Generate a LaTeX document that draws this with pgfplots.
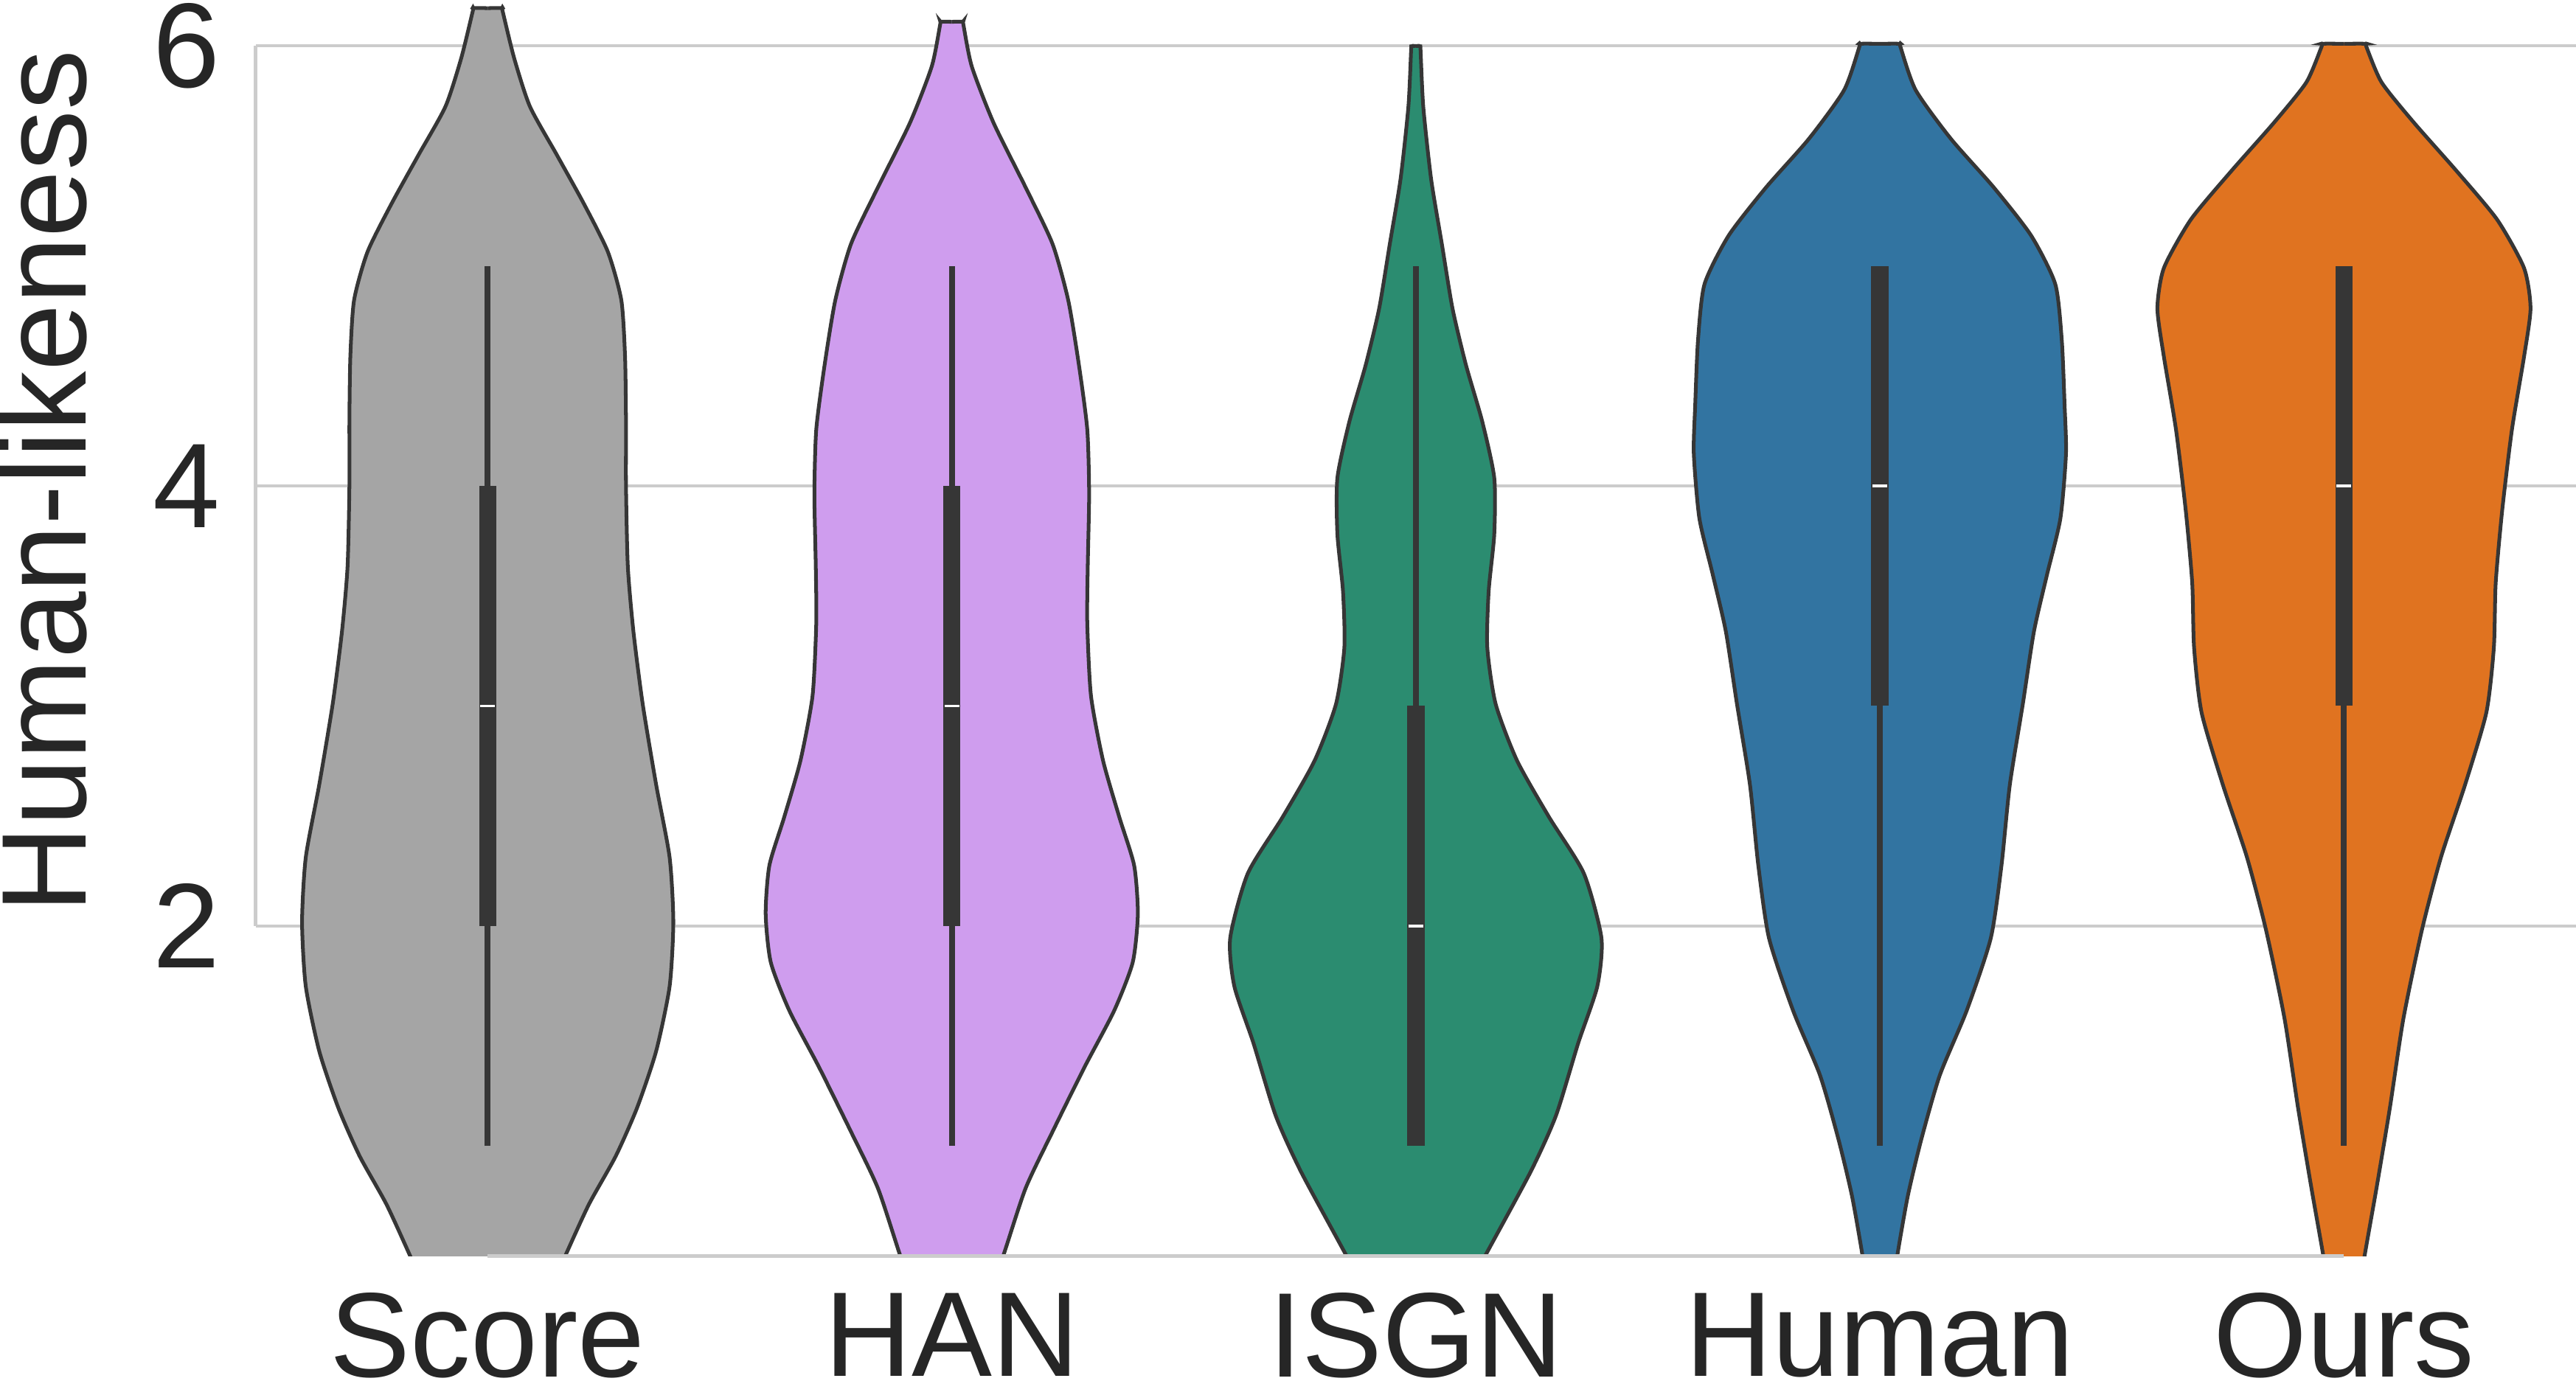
\documentclass[border=0pt]{standalone}
\usepackage{fontspec}
\setmainfont{Liberation Sans}
\usepackage{pgfplots}
\usepackage{pgfplotstable}
\pgfplotsset{compat=1.18}

\definecolor{cScore}{HTML}{A5A5A5}
\definecolor{cHAN}{HTML}{CF9DEE}
\definecolor{cISGN}{HTML}{2B8C70}
\definecolor{cHuman}{HTML}{3274A1}
\definecolor{cOurs}{HTML}{E07320}
\definecolor{outc}{HTML}{363636}
\definecolor{gridc}{HTML}{CCCCCC}
\definecolor{textc}{HTML}{262626}

\newcommand{\fs}{\fontsize{20.8pt}{25pt}\selectfont}

% half-width profiles of the violins: y value, half width (x units)
\pgfplotstableread{
y w
0.30 0
0.30 0.125
0.495 0.166
0.734 0.218
0.954 0.276
1.174 0.322
1.431 0.363
1.725 0.392
2.018 0.400
2.312 0.392
2.642 0.363
3.009 0.334
3.339 0.314
3.633 0.302
4.000 0.298
4.294 0.298
4.587 0.296
4.844 0.288
5.064 0.259
5.284 0.207
5.505 0.149
5.725 0.091
5.945 0.057
6.160 0.032
6.172 0.031
6.172 0
}\tScore

\pgfplotstableread{
y w
0.30 0
0.30 0.075
0.495 0.110
0.807 0.159
1.064 0.217
1.358 0.286
1.615 0.350
1.835 0.390
2.055 0.401
2.275 0.393
2.495 0.361
2.752 0.326
3.046 0.300
3.376 0.292
3.633 0.293
3.963 0.296
4.257 0.292
4.550 0.274
4.844 0.251
5.101 0.217
5.358 0.159
5.651 0.090
5.908 0.043
6.098 0.025
6.110 0.024
6.110 0
}\tHAN

\pgfplotstableread{
y w
0.30 0
0.30 0.100
0.495 0.148
0.881 0.247
1.138 0.302
1.468 0.350
1.725 0.391
1.945 0.400
2.239 0.362
2.495 0.287
2.752 0.218
3.009 0.172
3.266 0.154
3.523 0.157
3.780 0.169
4.037 0.169
4.294 0.143
4.550 0.108
4.807 0.079
5.101 0.056
5.394 0.033
5.725 0.016
5.990 0.010
6.000 0.009
6.000 0
}\tISGN

\pgfplotstableread{
y w
0.30 0
0.30 0.025
0.495 0.037
0.771 0.060
1.028 0.089
1.321 0.129
1.615 0.187
1.945 0.239
2.275 0.262
2.642 0.280
3.009 0.308
3.339 0.332
3.596 0.360
3.853 0.389
4.147 0.401
4.367 0.398
4.661 0.392
4.917 0.378
5.138 0.326
5.358 0.245
5.578 0.153
5.800 0.077
5.998 0.044
6.010 0.043
6.010 0
}\tHuman

\pgfplotstableread{
y w
0.30 0
0.30 0.030
0.495 0.044
0.807 0.070
1.174 0.099
1.578 0.128
1.982 0.168
2.312 0.209
2.642 0.261
2.972 0.307
3.266 0.323
3.560 0.327
3.890 0.341
4.257 0.362
4.587 0.388
4.807 0.402
4.991 0.388
5.211 0.330
5.431 0.243
5.651 0.151
5.835 0.081
5.998 0.048
6.010 0.047
6.010 0
}\tOurs

\newcommand{\violin}[3]{%
  \addplot[fill=#3, draw=#3, line width=0.3pt, smooth, tension=0.4] table[x expr=#1-\thisrow{w}, y=y] {#2} -- cycle;
  \addplot[fill=#3, draw=#3, line width=0.3pt, smooth, tension=0.4] table[x expr=#1+\thisrow{w}, y=y] {#2} -- cycle;
  \addplot[draw=outc, line width=0.64pt, smooth, tension=0.4] table[x expr=#1-\thisrow{w}, y=y] {#2};
  \addplot[draw=outc, line width=0.64pt, smooth, tension=0.4] table[x expr=#1+\thisrow{w}, y=y] {#2};
}

\begin{document}
\begin{tikzpicture}
\begin{axis}[
  scale only axis,
  width=400.6pt, height=216.54pt,
  xmin=-0.5, xmax=4.5, ymin=0.5, ymax=6.2,
  axis line style={draw=none},
  xtick={0,1,2,3,4},
  xticklabels={Score,HAN,ISGN,Human,Ours},
  ytick={2,4,6},
  major tick length=0pt,
  tick style={draw=none},
  ymajorgrids,
  grid style={color=gridc, line width=0.51pt},
  /pgf/number format/assume math mode=true,
  tick label style={font=\fs, text=textc},
  yticklabel style={anchor=east, inner sep=0pt, xshift=-5.9pt},
  xticklabel style={anchor=north, inner sep=0pt, yshift=-6.2pt},
  ylabel={Human-likeness},
  every axis y label/.style={at={(axis description cs:-0.072,0.6175)}, anchor=south, rotate=90, inner sep=0pt, font=\fs, text=textc},
  after end axis/.code={
    \draw[gridc, line width=0.64pt] (axis cs:-0.5,2) -- (axis cs:-0.5,6);
    \draw[gridc, line width=0.64pt] (axis cs:0,0.5) -- (axis cs:4,0.5);
  },
]
\violin{0}{\tScore}{cScore}
\violin{1}{\tHAN}{cHAN}
\violin{2}{\tISGN}{cISGN}
\violin{3}{\tHuman}{cHuman}
\violin{4}{\tOurs}{cOurs}

% inner boxes: whiskers (1 to 5), boxes (Q1 to Q3), medians
\addplot[draw=outc, line width=1.02pt] coordinates {(0,1) (0,5)};
\addplot[draw=outc, line width=3pt] coordinates {(0,2) (0,4)};
\addplot[draw=white, line width=0.5pt] coordinates {(-0.016,3) (0.016,3)};

\addplot[draw=outc, line width=1.02pt] coordinates {(1,1) (1,5)};
\addplot[draw=outc, line width=3pt] coordinates {(1,2) (1,4)};
\addplot[draw=white, line width=0.5pt] coordinates {(0.984,3) (1.016,3)};

\addplot[draw=outc, line width=1.02pt] coordinates {(2,1) (2,5)};
\addplot[draw=outc, line width=3pt] coordinates {(2,1) (2,3)};
\addplot[draw=white, line width=0.5pt] coordinates {(1.984,2) (2.016,2)};

\addplot[draw=outc, line width=1.02pt] coordinates {(3,1) (3,5)};
\addplot[draw=outc, line width=3pt] coordinates {(3,3) (3,5)};
\addplot[draw=white, line width=0.5pt] coordinates {(2.984,4) (3.016,4)};

\addplot[draw=outc, line width=1.02pt] coordinates {(4,1) (4,5)};
\addplot[draw=outc, line width=3pt] coordinates {(4,3) (4,5)};
\addplot[draw=white, line width=0.5pt] coordinates {(3.984,4) (4.016,4)};
\end{axis}
\pgfresetboundingbox
\path[use as bounding box] (-44.14pt,-21.55pt) rectangle (400.6pt,216.88pt);
\end{tikzpicture}
\end{document}
